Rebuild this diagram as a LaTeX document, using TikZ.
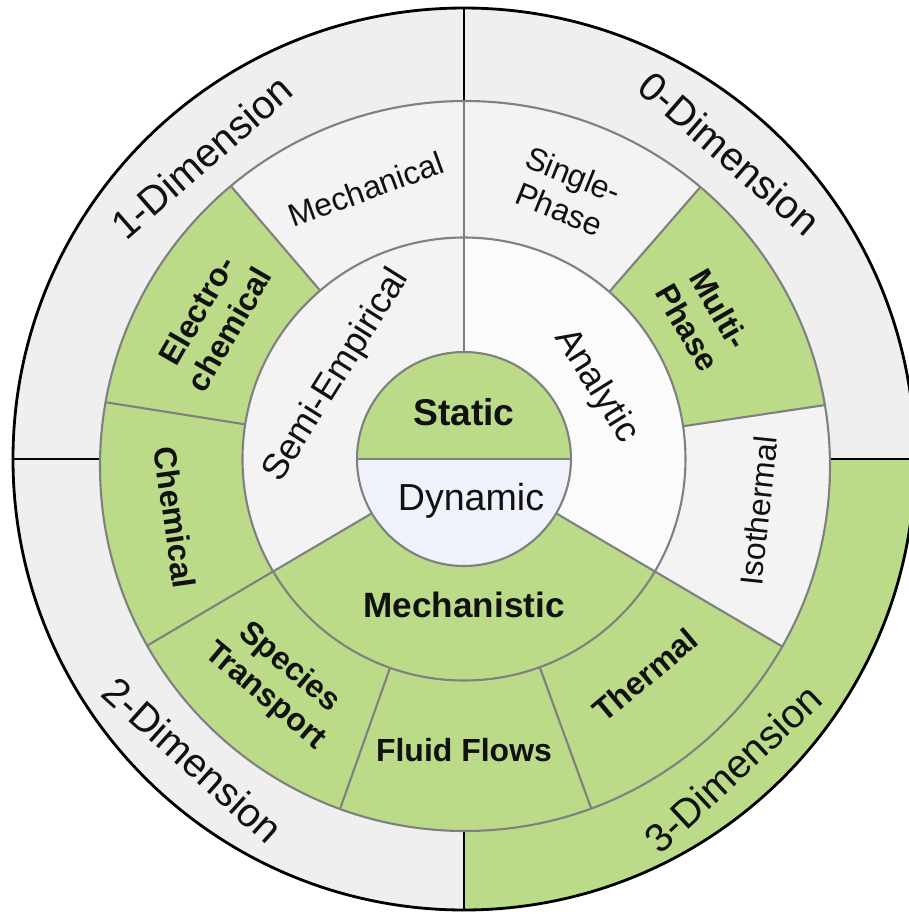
\documentclass[tikz,border=0pt]{standalone}
\usepackage{fontspec}
\setmainfont{Liberation Sans}
\begin{document}
\begin{tikzpicture}
\definecolor{leaf}{RGB}{187,219,136}
\definecolor{mist}{RGB}{239,239,239}
\definecolor{pale}{RGB}{243,243,243}
\definecolor{paler}{RGB}{251,251,251}
\definecolor{frost}{RGB}{239,242,250}
\definecolor{rim}{RGB}{128,128,128}
\definecolor{ink}{RGB}{17,17,17}
\tikzset{
  rimline/.style={draw=rim, line width=0.6pt},
  border/.style={draw=black, line width=0.8pt},
  seglabel/.style={text=ink, inner sep=0pt, align=center,
    font=\fontsize{9.1}{10.6}\selectfont},
  seglabelb/.style={seglabel, font=\fontsize{9.1}{10.6}\selectfont\bfseries},
  dimlabel/.style={text=ink, inner sep=0pt, font=\fontsize{11.4}{13}\selectfont},
  corelabel/.style={text=ink, inner sep=0pt, font=\fontsize{10.3}{12}\selectfont},
}
\useasboundingbox (-4.64,-4.55) rectangle (4.44,4.59);

% outer ring: four dimension quadrants
\begin{scope}
  \clip (0,0) circle (4.51);
  \fill[mist] (-5,-5) rectangle (5,5);
  \fill[leaf] (0,0) rectangle (5,-5);
  \draw[border] (-5,0) -- (5,0);
  \draw[border] (0,-5) -- (0,5);
\end{scope}
\draw[border] (0,0) circle (4.51);

% middle ring: physics segments
\begin{scope}
  \clip (0.01,-0.07) circle (3.65);
  \foreach \a/\b/\c in {90/130.5/pale, 130.5/171/leaf, 171/210.5/leaf,
      210.5/250.5/leaf, 250.5/290/leaf, 290/329.5/leaf, 329.5/368.5/pale,
      8.5/49/leaf, 49/90/pale}
    \fill[\c] (0,0) -- (\a:6) arc[start angle=\a, end angle=\b, radius=6] -- cycle;
  \foreach \a in {90,130.5,171,210.5,250.5,290,329.5,8.5,49}
    \draw[rimline] (0,0) -- (\a:6);
\end{scope}
\draw[rimline] (0.01,-0.07) circle (3.65);

% inner ring: model approaches
\begin{scope}
  \clip (0,0) circle (2.215);
  \foreach \a/\b/\c in {90/210.5/pale, 210.5/329.5/leaf, -30.5/90/paler}
    \fill[\c] (0,0) -- (\a:3) arc[start angle=\a, end angle=\b, radius=3] -- cycle;
  \foreach \a in {90,210.5,329.5}
    \draw[rimline] (0,0) -- (\a:3);
\end{scope}
\draw[rimline] (0,0) circle (2.215);

% core: static / dynamic
\fill[leaf] (1.07,0) arc[start angle=0, end angle=180, radius=1.07] -- cycle;
\fill[frost] (-1.07,0) arc[start angle=180, end angle=360, radius=1.07] -- cycle;
\draw[rimline] (-1.07,0) -- (1.07,0);
\draw[rimline] (0,0) circle (1.07);

% labels
\node[dimlabel, rotate=41]  (d1) at (131:4.0)  {1-Dimension};
\node[dimlabel, rotate=-41] (d0) at (49:4.05)  {0-Dimension};
\node[dimlabel, rotate=-42] (d2) at (228:4.05) {2-Dimension};
\node[dimlabel, rotate=43]  (d3) at (311:4.1)  {3-Dimension};

\node[seglabel, rotate=20]   (mech) at (110:2.87) {Mechanical};
\node[seglabel, rotate=-22]  (sp)   at (69:2.86)  {Single-\\Phase};
\node[seglabelb, rotate=-60] (mp)   at (30.4:2.78) {Multi-\\Phase};
\node[seglabel, rotate=84]   (iso)  at (-10:2.99) {Isothermal};
\node[seglabelb, rotate=40]  (th)   at (-50:2.82) {Thermal};
\node[seglabelb]             (ff)   at (270:2.91) {Fluid Flows};
\node[seglabelb, rotate=-40] (st)   at (230:2.91) {Species\\Transport};
\node[seglabelb, rotate=-82] (ch)   at (191.5:2.95) {Chemical};
\node[seglabelb, rotate=60]  (ec)   at (151:2.87) {Electro-\\chemical};

\node[corelabel, rotate=58]  (se) at (146.8:1.52) {Semi-Empirical};
\node[corelabel, rotate=-58] (an) at (29:1.51) {Analytic};
\node[corelabel, font=\fontsize{10}{12}\selectfont\bfseries] (ms) at (0,-1.46) {Mechanistic};
\node[corelabel, font=\fontsize{10.6}{12}\selectfont\bfseries] (stat) at (0,0.47) {Static};
\node[corelabel, font=\fontsize{10.7}{12}\selectfont] (dyn) at (0.07,-0.42) {Dynamic};
\end{tikzpicture}
\end{document}
